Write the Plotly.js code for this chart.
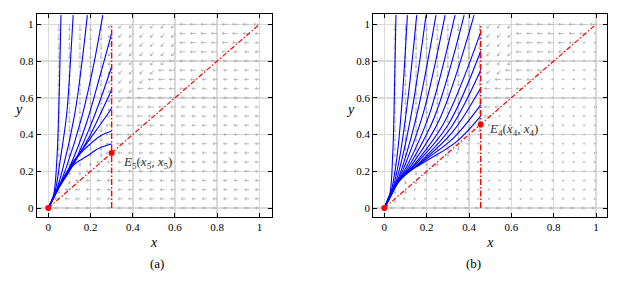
<!DOCTYPE html>
<html><head><meta charset="utf-8">
<script src="https://cdn.plot.ly/plotly-3.0.1.min.js"></script>
<style>html,body{margin:0;padding:0;background:#fff}#chart{width:639px;height:287px}</style>
</head><body><div id="chart"></div>
<script>
// ---------- data ----------
const tickVals = [0, 0.2, 0.4, 0.6, 0.8, 1];
const tickText = ['0', '0.2', '0.4', '0.6', '0.8', '1'];

// direction-field sample grid (columns x, rows y from top)
const fieldX = [0.05,0.1,0.15,0.2,0.25,0.3,0.35,0.4,0.45,0.5,0.55,0.6,0.65,0.7,0.75,0.8,0.85,0.9,0.95,1.0];
const fieldY = [1.0,0.95,0.9,0.85,0.8,0.75,0.7,0.65,0.6,0.55,0.5,0.45,0.4,0.35,0.3,0.25,0.2,0.15,0.1,0.05,0.0];
// arrow kind read per cell: D=down, d=short down, G=down-left, L=left, l=short left, s=tiny left
const fieldA = [
  'DDDDDGGGGGGGLLLLLLLL',
  'DDDDDGGGGGGGLLLLLLLl',
  'DDDDDGGGGGGGLLLLLLll',
  'DDDDDGGGGGGGLLLLLlll',
  'DDDDDGGGGGGLLLLLllll',
  'DDDDDGGGGGLLLLLlllll',
  'DDDDDGGGGLLLLLllllll',
  'DDDDDGGGLLLLLlllllll',
  'DDDDDGGLLLLLllllllll',
  'DDDDDGLLLLLlllllllll',
  'DDDDDLLLLLllllllllll',
  'DDDDDLLLLlllllllllll',
  'DDDDDLLLllllllllllll',
  'DDDDDLLlllllllllllll',
  'dddddLllllllllllllll',
  'ddddllllllllllllllll',
  'dddlllllllllllllllll',
  'ddllllllllllllllllll',
  'dlllllllllllllllllll',
  'llllllllllllllllllll',
  'llllllllllllllllllll'
];
const fieldB = [
  'DDDDDDDDDGGGLLLLLLLL',
  'DDDDDDDDDGGGLLLLLLLs',
  'DDDDDDDDDGGGLLLLLLss',
  'DDDDDDDDDGGGLLLLLsss',
  'DDDDDDDDDGGGLLLLssss',
  'DDDDDDDDDGGLLLLsssss',
  'DDDDDDDDDGLLLLssssss',
  'DDDDDDDDDLLLLsssssss',
  'DDDDDDDDDLLLssssssss',
  'DDDDDDDDDLLsssssssss',
  'DDDDDDDDDLssssssssss',
  'DDDDDDDDDsssssssssss',
  'DDDDDDDDssssssssssss',
  'DDDDDDDsssssssssssss',
  'ddddddssssssssssssss',
  'dddddsssssssssssssss',
  'ddddssssssssssssssss',
  'dddsssssssssssssssss',
  'ddssssssssssssssssss',
  'dsssssssssssssssssss',
  'llllllllllllllllllll'
];

// trajectories, panel (a)
const curvesAx = [
  [0,0.025,0.04,0.049,0.055,0.06],
  [0,0.03,0.055,0.087,0.104,0.118],
  [0,0.035,0.07,0.125,0.158,0.185],
  [0,0.04,0.085,0.16,0.215,0.258],
  [0,0.045,0.1,0.18,0.245,0.3],
  [0,0.05,0.11,0.19,0.25,0.3],
  [0,0.055,0.12,0.2,0.25,0.3],
  [0,0.06,0.12,0.2,0.25,0.3],
  [0,0.065,0.13,0.2,0.25,0.3],
  [0,0.07,0.12,0.18,0.24,0.3]
];
const curvesAy = [
  [0,0.07,0.25,0.51,0.78,1.05],
  [0,0.08,0.25,0.51,0.78,1.05],
  [0,0.085,0.22,0.51,0.78,1.05],
  [0,0.09,0.22,0.5,0.78,1.05],
  [0,0.1,0.22,0.46,0.72,0.951],
  [0,0.11,0.22,0.42,0.6,0.77],
  [0,0.12,0.24,0.4,0.52,0.642],
  [0,0.135,0.25,0.38,0.46,0.543],
  [0,0.15,0.27,0.35,0.395,0.419],
  [0,0.16,0.235,0.28,0.325,0.348]
];
// trajectories, panel (b)
const curvesBx = [
  [0,0.025,0.04,0.048,0.055],
  [0,0.03,0.06,0.085,0.109],
  [0,0.035,0.07,0.11,0.153],
  [0,0.04,0.08,0.135,0.197],
  [0,0.045,0.09,0.16,0.244],
  [0,0.05,0.1,0.185,0.287],
  [0,0.05,0.11,0.21,0.334],
  [0,0.055,0.12,0.235,0.377],
  [0,0.055,0.13,0.26,0.424],
  [0,0.06,0.14,0.28,0.455],
  [0,0.06,0.15,0.3,0.455],
  [0,0.065,0.16,0.31,0.455],
  [0,0.065,0.17,0.32,0.455],
  [0,0.07,0.18,0.33,0.455],
  [0,0.07,0.19,0.34,0.455]
];
const curvesBy = [
  [0,0.07,0.3,0.65,1.05],
  [0,0.08,0.28,0.6,1.05],
  [0,0.085,0.26,0.58,1.05],
  [0,0.09,0.25,0.56,1.05],
  [0,0.1,0.24,0.54,1.05],
  [0,0.11,0.24,0.52,1.05],
  [0,0.115,0.235,0.5,1.05],
  [0,0.12,0.235,0.49,1.05],
  [0,0.125,0.235,0.48,1.05],
  [0,0.13,0.235,0.46,0.956],
  [0,0.135,0.24,0.45,0.853],
  [0,0.14,0.24,0.43,0.75],
  [0,0.145,0.245,0.41,0.653],
  [0,0.15,0.25,0.385,0.561],
  [0,0.16,0.25,0.36,0.5]
];

const diagX = [0, 1];
const diagY = [0, 1];
const vlineAx = [0.3, 0.3];
const vlineBx = [0.455, 0.455];
const vlineY = [0, 1];
const eqAx = [0, 0.3];
const eqAy = [0, 0.3];
const eqBx = [0, 0.455];
const eqBy = [0, 0.455];
const labelA = '<i>E</i><sub>5</sub>(<i>x</i><sub>5</sub>, <i>x</i><sub>5</sub>)';
const labelB = '<i>E</i><sub>4</sub>(<i>x</i><sub>4</sub>, <i>x</i><sub>4</sub>)';

// ---------- styling helpers ----------
const arrowVec = { D:[0,-0.036], d:[0,-0.02], G:[-0.016,-0.021], L:[-0.027,0], l:[-0.02,0], s:[-0.01,0] };
function buildArrows(codes, sx, sy) {
  const X = [], Y = [];
  codes.forEach((row, r) => {
    for (let c = 0; c < row.length; c++) {
      const v = arrowVec[row[c]];
      if (!v) continue;
      const x0 = fieldX[c], y0 = fieldY[r];
      const x1 = x0 + v[0], y1 = y0 + v[1];
      const px = v[0] * sx, py = v[1] * sy;
      const L = Math.hypot(px, py);
      const ex = px / L, ey = py / L;
      const h = Math.min(2.2, L * 0.6), a = Math.PI / 5;
      const hx1 = -(ex * Math.cos(a) - ey * Math.sin(a)) * h;
      const hy1 = -(ex * Math.sin(a) + ey * Math.cos(a)) * h;
      const hx2 = -(ex * Math.cos(-a) - ey * Math.sin(-a)) * h;
      const hy2 = -(ex * Math.sin(-a) + ey * Math.cos(-a)) * h;
      X.push(x0, x1, null, x1 + hx1 / sx, x1, x1 + hx2 / sx, null);
      Y.push(y0, y1, null, y1 + hy1 / sy, y1, y1 + hy2 / sy, null);
    }
  });
  return { X, Y };
}

const traces = [];
function addPanel(xa, ya, codes, sx, sy, cx, cy, vx, ex, ey) {
  const arr = buildArrows(codes, sx, sy);
  traces.push({ type:'scatter', mode:'lines', x:arr.X, y:arr.Y, xaxis:xa, yaxis:ya,
    line:{ color:'#ababab', width:0.8 }, hoverinfo:'skip', showlegend:false });
  cx.forEach((xs, i) => traces.push({ type:'scatter', mode:'lines', x:xs, y:cy[i], xaxis:xa, yaxis:ya,
    line:{ color:'#0000ff', width:1.1, shape:'spline', smoothing:1 }, showlegend:false }));
  traces.push({ type:'scatter', mode:'lines', x:diagX, y:diagY, xaxis:xa, yaxis:ya,
    line:{ color:'#ff0000', width:1.2, dash:'5px,2px,1.5px,2px' }, showlegend:false });
  traces.push({ type:'scatter', mode:'lines', x:vx, y:vlineY, xaxis:xa, yaxis:ya,
    line:{ color:'#ff0000', width:1.4, dash:'6px,2px,1.5px,2px' }, showlegend:false });
  traces.push({ type:'scatter', mode:'markers', x:ex, y:ey, xaxis:xa, yaxis:ya,
    marker:{ color:'#ff0000', size:6 }, showlegend:false });
}
addPanel('x', 'y', fieldA, 211, 183.7, curvesAx, curvesAy, vlineAx, eqAx, eqAy);
addPanel('x2', 'y2', fieldB, 211.7, 183.7, curvesBx, curvesBy, vlineBx, eqBx, eqBy);

const serif = 'Liberation Serif';
const tickFont = { family:serif, size:11, color:'#000' };
function xAxis(domain, range, anchor) {
  return { domain, range, anchor, tickvals:tickVals, ticktext:tickText, tickfont:tickFont,
    ticks:'inside', ticklen:4, tickcolor:'#000', mirror:'ticks', showline:true, linecolor:'#000', linewidth:1,
    showgrid:true, gridcolor:'#dadada', gridwidth:1.5, zeroline:false,
    title:{ text:'<i>x</i>', font:{ family:serif, size:14, color:'#000' }, standoff:4 } };
}
function yAxis(anchor) {
  return { domain:[0,1], range:[-0.049, 1.056], anchor, tickvals:tickVals, ticktext:tickText, tickfont:tickFont,
    ticks:'inside', ticklen:4, tickcolor:'#000', mirror:'ticks', showline:true, linecolor:'#000', linewidth:1,
    showgrid:true, gridcolor:'#dadada', gridwidth:1.5, zeroline:false };
}
const annFont = { family:serif, size:14, color:'#000' };
const layout = {
  width:639, height:287, paper_bgcolor:'#fff', plot_bgcolor:'#fff',
  margin:{ l:0, r:0, t:14, b:70 },
  xaxis: xAxis([0.0574, 0.4252], [-0.055, 1.058], 'y'),
  yaxis: yAxis('x'),
  xaxis2: xAxis([0.5842, 0.9504], [-0.052, 1.053], 'y2'),
  yaxis2: yAxis('x2'),
  annotations:[
    { xref:'paper', yref:'paper', x:12/639, y:0.528, text:'<i>y</i>', showarrow:false, font:annFont },
    { xref:'paper', yref:'paper', x:350/639, y:0.528, text:'<i>y</i>', showarrow:false, font:annFont },
    { xref:'paper', yref:'paper', x:148/639, y:-0.276, text:'(a)', showarrow:false, font:{ family:serif, size:13, color:'#000' } },
    { xref:'paper', yref:'paper', x:483/639, y:-0.276, text:'(b)', showarrow:false, font:{ family:serif, size:13, color:'#000' } },
    { xref:'x', yref:'y', x:0.345, y:0.25, xanchor:'left', text:labelA, showarrow:false, font:{ family:serif, size:13, color:'#333' } },
    { xref:'x2', yref:'y2', x:0.485, y:0.425, xanchor:'left', text:labelB, showarrow:false, font:{ family:serif, size:13, color:'#333' } }
  ]
};
Plotly.newPlot('chart', traces, layout, { displayModeBar:false, staticPlot:true });
</script></body></html>
